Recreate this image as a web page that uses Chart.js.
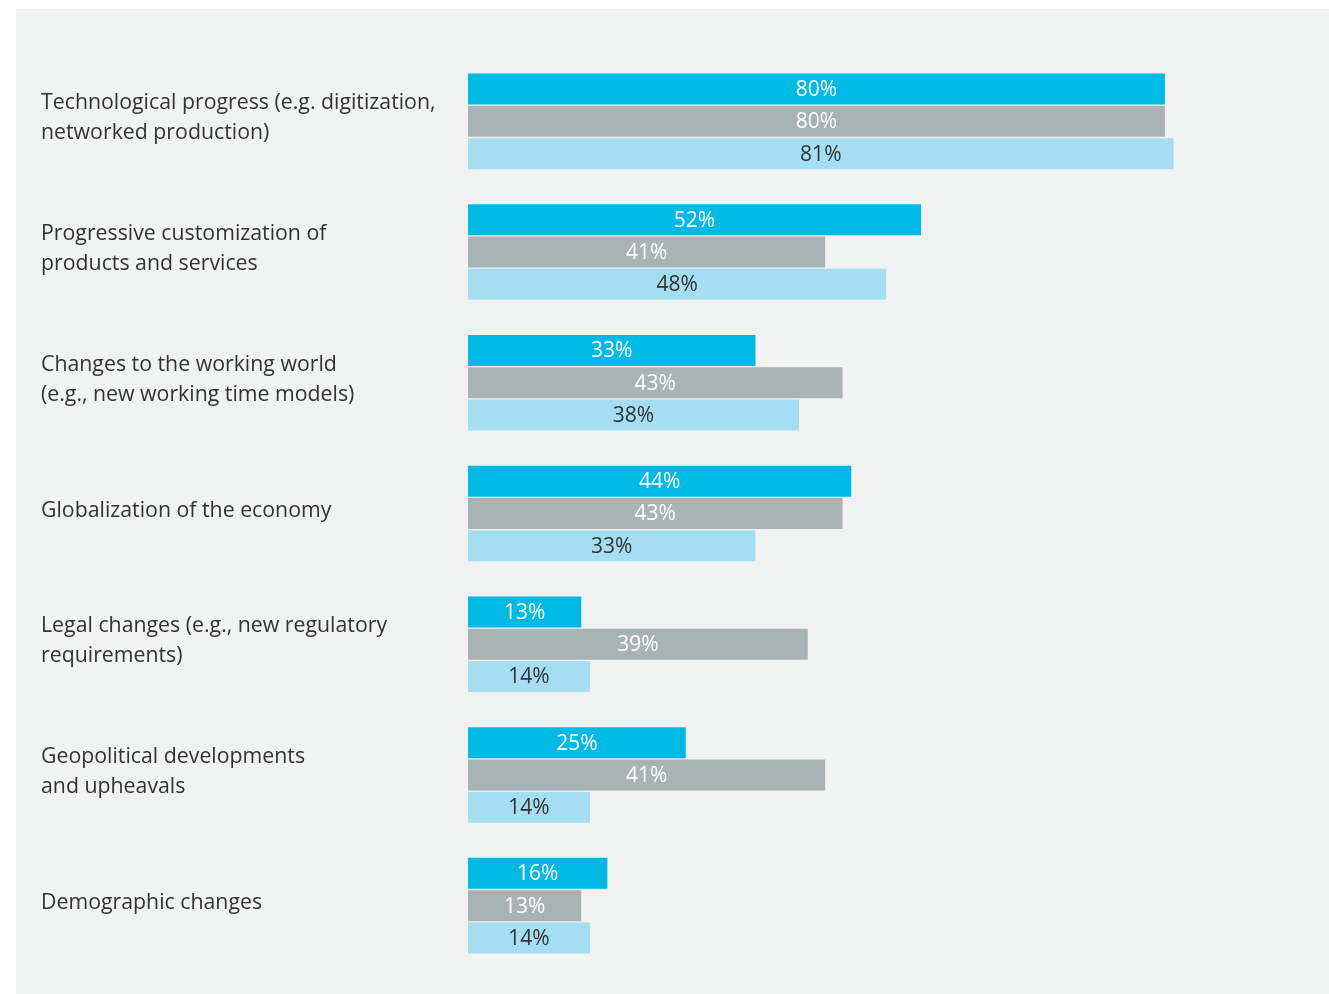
<!DOCTYPE html>
<html>
<head>
<meta charset="utf-8">
<script src="https://cdn.jsdelivr.net/npm/chart.js@4.4.1/dist/chart.umd.min.js"></script>
<style>
  html, body { margin: 0; padding: 0; background: #ffffff; }
  #panel {
    position: absolute; left: 16px; top: 9px;
    width: 1313px; height: 985px;
    background: #f1f2f2;
  }
  #chart { display: block; }
</style>
</head>
<body>
<div id="panel"><canvas id="chart" width="1313" height="985"></canvas></div>
<script>
// Drivers of change, share of respondents (%)
const categories = [
  ["Technological progress (e.g. digitization,", "networked production)"],
  ["Progressive customization of", "products and services"],
  ["Changes to the working world", "(e.g., new working time models)"],
  ["Globalization of the economy"],
  ["Legal changes (e.g., new regulatory", "requirements)"],
  ["Geopolitical developments", "and upheavals"],
  ["Demographic changes"]
];
const seriesA = [80, 52, 33, 44, 13, 25, 16];
const seriesB = [80, 41, 43, 43, 39, 41, 13];
const seriesC = [81, 48, 38, 33, 14, 14, 14];

const colorA = "#00b9e4";
const colorB = "#a8b3b3";
const colorC = "#a5def2";
const textDark = "#333333";
const fontFamily = "'Open Sans', 'Noto Sans', sans-serif";

// Writes each bar's percentage centred inside the bar
const valueLabels = {
  id: "valueLabels",
  afterDatasetsDraw(chart) {
    const ctx = chart.ctx;
    ctx.save();
    ctx.font = "21px " + fontFamily;
    ctx.textAlign = "center";
    ctx.textBaseline = "middle";
    chart.data.datasets.forEach((ds, di) => {
      const meta = chart.getDatasetMeta(di);
      ctx.fillStyle = ds.labelColor;
      meta.data.forEach((bar, i) => {
        const cx = (bar.x + bar.base) / 2;
        ctx.fillText(ds.data[i] + "%", cx, bar.y + 1);
      });
    });
    ctx.restore();
  }
};

new Chart(document.getElementById("chart"), {
  type: "bar",
  data: {
    labels: categories,
    datasets: [
      { data: seriesA, backgroundColor: colorA, labelColor: "#ffffff" },
      { data: seriesB, backgroundColor: colorB, labelColor: "#ffffff" },
      { data: seriesC, backgroundColor: colorC, labelColor: textDark }
    ].map(d => Object.assign(d, {
      borderWidth: 0,
      categoryPercentage: 0.741,
      barPercentage: 0.96
    }))
  },
  options: {
    indexAxis: "y",
    responsive: false,
    animation: false,
    layout: { padding: { left: 25, right: 77, top: 47, bottom: 23 } },
    plugins: { legend: { display: false }, tooltip: { enabled: false } },
    scales: {
      x: { display: false, min: 0, max: 90 },
      y: {
        grid: { display: false },
        border: { display: false },
        afterFit(scale) {
          scale.width = 427;
          // labels sit well inside their bands, so no extra room is needed
          scale.paddingTop = 0;
          scale.paddingBottom = 0;
        },
        ticks: {
          crossAlign: "far",
          labelOffset: -3,
          color: textDark,
          font: { family: fontFamily, size: 21.3, lineHeight: 1.41 }
        }
      }
    }
  },
  plugins: [valueLabels]
});
</script>
</body>
</html>
